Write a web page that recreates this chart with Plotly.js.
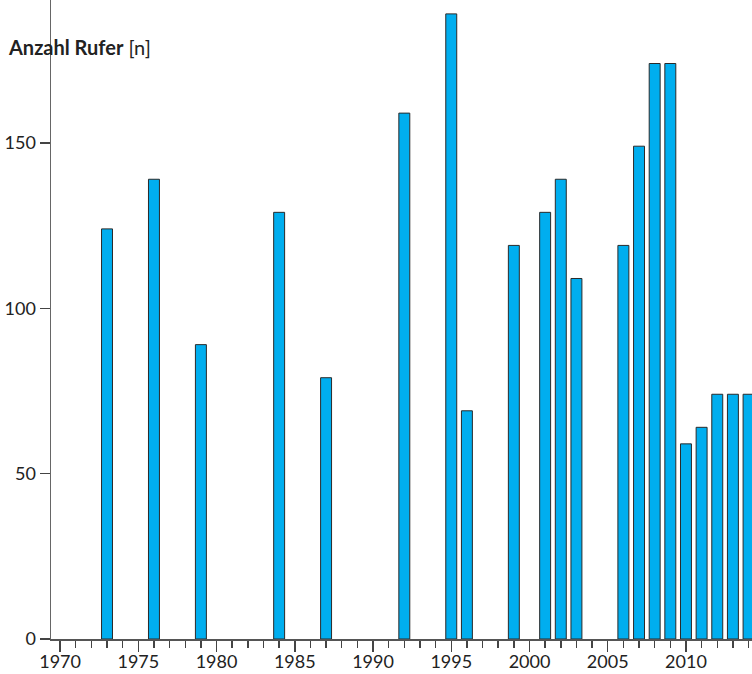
<!DOCTYPE html>
<html>
<head>
<meta charset="utf-8">
<script src="https://cdn.plot.ly/plotly-3.0.1.min.js"></script>
<style>html,body{margin:0;padding:0;background:#fff;}#chart{width:752px;height:674px;}</style>
</head>
<body>
<div id="chart"></div>
<script>
var years = [1973, 1976, 1979, 1984, 1987, 1992, 1995, 1996, 1999, 2001, 2002, 2003, 2006, 2007, 2008, 2009, 2010, 2011, 2012, 2013, 2014];
var callers = [124, 139, 89, 129, 79, 159, 189, 69, 119, 129, 139, 109, 119, 149, 174, 174, 59, 64, 74, 74, 74];
var yTicks = [0, 50, 100, 150];
var xTicks = [1970, 1975, 1980, 1985, 1990, 1995, 2000, 2005, 2010];
var yTitle = '<b>Anzahl Rufer</b> [n]';

var trace = {
  type: 'bar',
  x: years,
  y: callers,
  width: 0.7,
  marker: {color: '#00aeef', line: {color: '#2a2a2a', width: 1}},
  hoverinfo: 'x+y'
};

var layout = {
  width: 752, height: 674,
  margin: {l: 51, r: 0, t: 0, b: 35, pad: 0},
  paper_bgcolor: '#fff', plot_bgcolor: '#fff',
  showlegend: false,
  font: {family: 'Lato, "Open Sans", sans-serif', color: '#222', size: 18},
  xaxis: {
    range: [1969.42, 2014.22],
    showgrid: false, zeroline: false,
    showline: true, linecolor: '#555', linewidth: 1.5,
    tickmode: 'array', tickvals: xTicks, ticktext: xTicks.map(String),
    ticks: 'outside', ticklen: 11, tickwidth: 1.5, tickcolor: '#444',
    minor: {dtick: 1, tick0: 1970, ticks: 'outside', ticklen: 7, tickwidth: 1.5, tickcolor: '#444', showgrid: false},
    tickfont: {size: 18, color: '#222'},
    ticklabelstandoff: -5
  },
  yaxis: {
    range: [0, 193.2],
    showgrid: false, zeroline: false,
    showline: true, linecolor: '#666', linewidth: 1.5,
    tickmode: 'array', tickvals: yTicks, ticktext: yTicks.map(String),
    ticks: 'outside', ticklen: 10, tickwidth: 1.5, tickcolor: '#444',
    tickfont: {size: 18, color: '#222'}
  },
  annotations: [{
    text: yTitle, xref: 'paper', yref: 'paper',
    x: -51/701, y: (674-47-35)/639, xanchor: 'left', yanchor: 'middle',
    xshift: 6, showarrow: false,
    font: {size: 20, color: '#222', family: 'Lato, "Open Sans", sans-serif'}
  }]
};

Plotly.newPlot('chart', [trace], layout, {displayModeBar: false, staticPlot: true});
</script>
</body>
</html>
